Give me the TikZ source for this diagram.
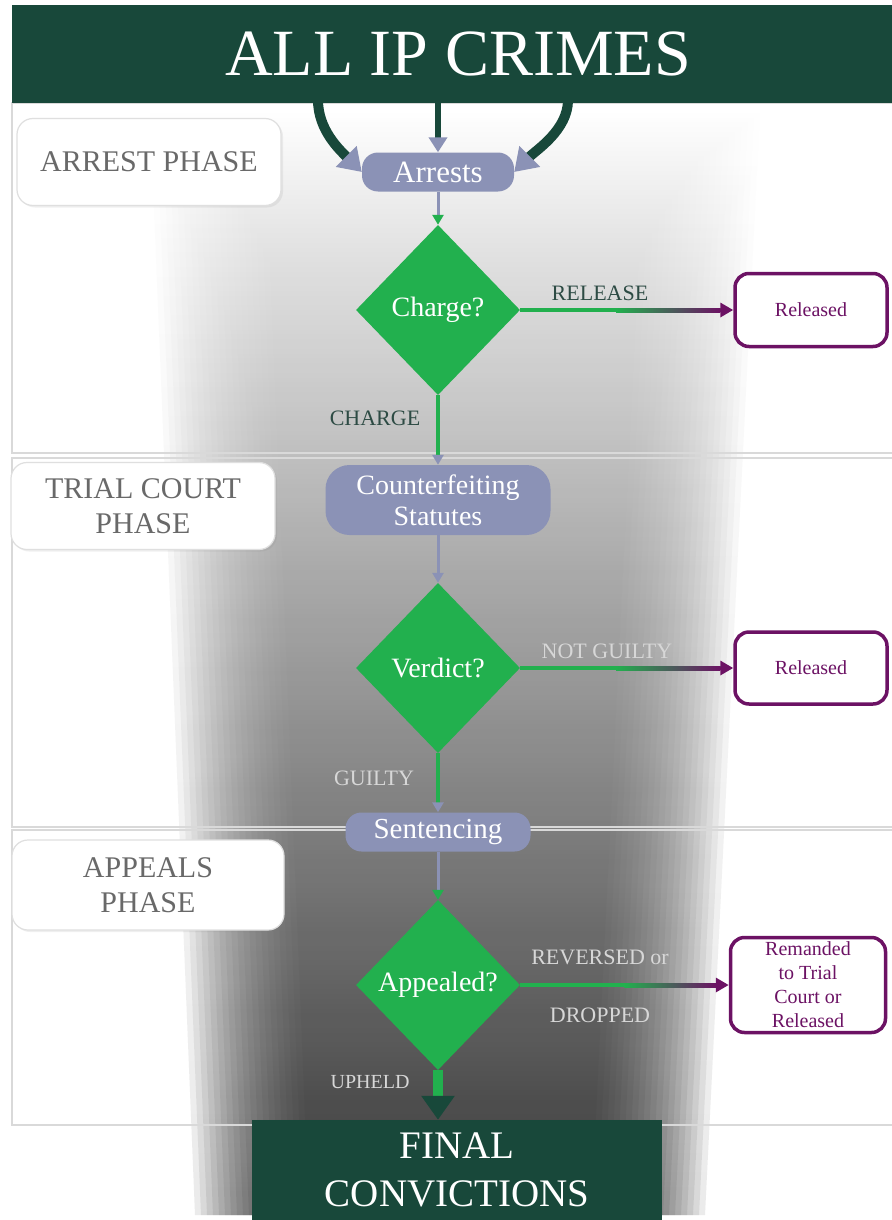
\documentclass[tikz,border=0pt]{standalone}
\usepackage{fontspec}
\setmainfont{Liberation Serif}
\usetikzlibrary{shapes.geometric,arrows.meta,calc,shadows}

\definecolor{bannergreen}{RGB}{24,72,58}
\definecolor{diagreen}{RGB}{34,176,78}
\definecolor{slate}{RGB}{139,146,182}
\definecolor{relpurple}{RGB}{108,18,100}
\definecolor{phasegray}{RGB}{105,105,105}
\definecolor{darklabel}{RGB}{45,75,68}
\definecolor{lightlabel}{RGB}{215,215,215}

\tikzset{
  banner/.style={fill=bannergreen, text=white, inner sep=0pt, align=center},
  panel/.style={draw=gray!30, line width=2.5pt},
  phasebox/.style={draw=gray!25, line width=1.2pt, fill=white, rounded corners=16pt,
    minimum width=264pt, minimum height=87pt, text=phasegray, align=center,
    font=\fontsize{30}{35}\selectfont,
    drop shadow={opacity=0.12, shadow xshift=2pt, shadow yshift=-2pt}},
  pill/.style={fill=slate, text=white, rounded corners=16pt, align=center, inner sep=0pt},
  decision/.style={diamond, fill=diagreen, text=white, inner sep=0pt,
    minimum width=164pt, minimum height=170pt, font=\fontsize{28}{32}\selectfont},
  outbox/.style={draw=relpurple, line width=3.5pt, fill=white, rounded corners=14pt,
    text=relpurple, align=center, inner sep=0pt, minimum width=152pt,
    font=\fontsize{20}{24}\selectfont},
  edgelabel/.style={font=\fontsize{22}{26}\selectfont, inner sep=0pt},
  flow/.style={line width=3pt, draw=slate, -{Triangle[length=10pt, width=11pt]}},
  yesline/.style={line width=4pt, draw=diagreen, -{Triangle[length=10pt, width=11pt, color=slate]}},
  noline/.style={line width=4pt, draw=diagreen, -{Triangle[length=13pt, width=14pt, color=relpurple]}},
  feed/.style={line width=10pt, draw=bannergreen, -{Triangle[length=22pt, width=28pt, color=slate]}}
}

\begin{document}
\begin{tikzpicture}[x=1pt, y=-1pt]

    % Page
    \useasboundingbox (0,0) rectangle (891,1220);
    \fill[white] (0,0) rectangle (891,1220);

    % --- FUNNEL BACKGROUND ---
    \foreach \k in {0,...,19}{
      \shade[top color=white, bottom color=black!90, fill opacity=0.085]
        ({150+6*\k},110) -- ({760-6*\k},110) -- ({705-6*\k},1215) -- ({195+6*\k},1215) -- cycle;
    }

    % Phase panels
    \draw[panel] (12,103) rectangle (898,453);
    \draw[panel] (12,458) rectangle (898,827);
    \draw[panel] (12,830) rectangle (898,1125);

    % Banners
    \node[banner, minimum width=892pt, minimum height=98pt, font=\fontsize{66}{70}\selectfont]
      (crimes) at (458,54) {ALL IP CRIMES};
    \node[banner, minimum width=410pt, minimum height=100pt, font=\fontsize{39}{48}\selectfont]
      (final) at (457,1170) {FINAL\\CONVICTIONS};

    % Phase labels
    \node[phasebox] (arrestphase) at (149,162) {ARREST PHASE};
    \node[phasebox] (trialphase) at (143,506) {TRIAL COURT\\PHASE};
    \node[phasebox, minimum width=272pt, minimum height=90pt] (appealphase) at (148,885) {APPEALS\\PHASE};

    % Process steps
    \node[pill, minimum width=152pt, minimum height=39pt, font=\fontsize{31}{34}\selectfont]
      (arrests) at (438,172) {Arrests};
    \node[pill, minimum width=225pt, minimum height=70pt, rounded corners=24pt, font=\fontsize{28}{31}\selectfont]
      (statutes) at (438,500) {Counterfeiting\\Statutes};
    \node[pill, minimum width=185pt, minimum height=39pt, font=\fontsize{29}{34}\selectfont]
      (sentencing) at (438,832) {Sentencing};

    % Decisions
    \node[decision] (charge) at (438,310) {Charge?};
    \node[decision] (verdict) at (438,668) {Verdict?};
    \node[decision] (appeal) at (438,985) {Appealed?};

    % Exits
    \node[outbox, minimum height=73pt] (released1) at (811,310) {Released};
    \node[outbox, minimum height=72pt] (released2) at (811,668) {Released};
    \node[outbox, minimum width=155pt, minimum height=95pt] (remanded) at (808,985)
      {Remanded\\to Trial\\Court or\\Released};

    % --- ARROWS FROM ALL IP CRIMES ---
    \coordinate (srcL) at (318,100);
    \coordinate (srcM) at (438,100);
    \coordinate (srcR) at (568,100);
    \draw[feed] (srcL) .. controls +(0,30) and +(-22,-22) .. (arrests.west);
    \draw[feed, line width=6pt, -{Triangle[length=15pt, width=18pt, color=slate]}] (srcM) -- (arrests.north);
    \draw[feed] (srcR) .. controls +(0,30) and +(22,-22) .. (arrests.east);

    % Main line
    \draw[flow, -{Triangle[length=10pt, width=11pt, color=diagreen]}] (arrests) -- (charge);
    \draw[yesline] (charge) -- (statutes);
    \draw[flow] (statutes) -- (verdict);
    \draw[yesline] (verdict) -- (sentencing);
    \draw[flow, -{Triangle[length=10pt, width=11pt, color=diagreen]}] (sentencing) -- (appeal);
    \draw[line width=10pt, draw=diagreen, -{Triangle[length=24pt, width=32pt, color=bannergreen]}]
      (appeal.south) -- (appeal.south |- final.north);

    % Side exits (green fading to purple)
    \draw[noline] (charge) -- (released1);
    \shade[left color=diagreen, right color=relpurple]
      ($(charge.east)!0.45!(released1.west)+(0,-2)$) rectangle ($(released1.west)+(-13,2)$);
    \draw[noline] (verdict) -- (released2);
    \shade[left color=diagreen, right color=relpurple]
      ($(verdict.east)!0.45!(released2.west)+(0,-2)$) rectangle ($(released2.west)+(-13,2)$);
    \draw[noline] (appeal) -- (remanded);
    \shade[left color=diagreen, right color=relpurple]
      ($(appeal.east)!0.5!(remanded.west)+(0,-2)$) rectangle ($(remanded.west)+(-13,2)$);

    % Edge labels
    \node[edgelabel, text=darklabel] (lblrelease) at (600,293) {RELEASE};
    \node[edgelabel, text=darklabel] (lblcharge) at (375,418) {CHARGE};
    \node[edgelabel, text=lightlabel] (lblnotguilty) at (607,651) {NOT GUILTY};
    \node[edgelabel, text=lightlabel] (lblguilty) at (374,778) {GUILTY};
    \node[edgelabel, text=lightlabel] (lblreversed) at (600,957) {REVERSED or};
    \node[edgelabel, text=lightlabel] (lbldropped) at (600,1015) {DROPPED};
    \node[edgelabel, text=lightlabel, font=\fontsize{20}{24}\selectfont] (lblupheld) at (370,1082) {UPHELD};

\end{tikzpicture}
\end{document}
